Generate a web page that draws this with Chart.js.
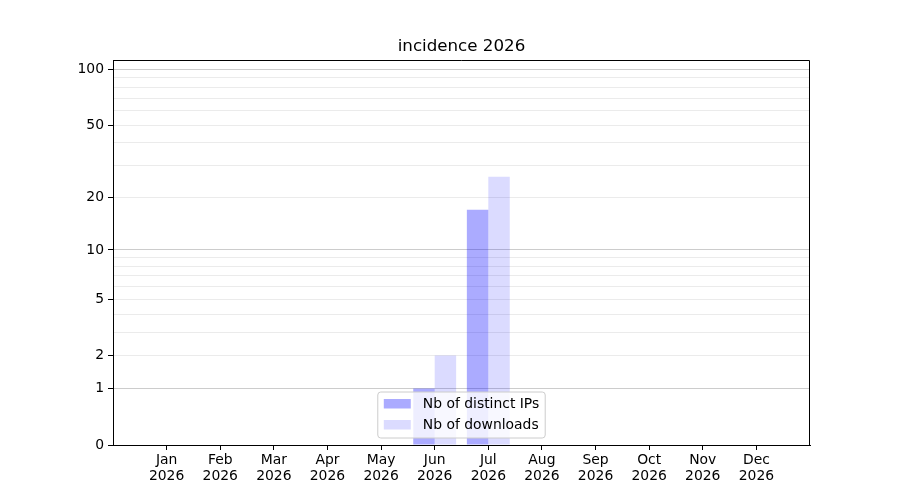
<!DOCTYPE html>
<html>
<head>
<meta charset="utf-8">
<script src="https://cdn.jsdelivr.net/npm/chart.js@4/dist/chart.umd.min.js"></script>
<style>
  html, body { margin: 0; padding: 0; background: #fff; }
  #wrap { width: 900px; height: 500px; }
</style>
</head>
<body>
<div id="wrap"><canvas id="myChart"></canvas></div>
<script>
// data
var months = ["Jan", "Feb", "Mar", "Apr", "May", "Jun", "Jul", "Aug", "Sep", "Oct", "Nov", "Dec"];
var yearLabel = "2026";
var distinctIPs = [0, 0, 0, 0, 0, 1, 17, 0, 0, 0, 0, 0];
var downloads = [0, 0, 0, 0, 0, 2, 26, 0, 0, 0, 0, 0];
var yLabelled = [0, 1, 2, 5, 10, 20, 50, 100];
var yMajorGrid = [1, 10, 100];
var yMinorGrid = [2, 3, 4, 5, 6, 7, 8, 9, 20, 30, 40, 50, 60, 70, 80, 90];
var titleText = "incidence 2026";
var seriesNames = ["Nb of distinct IPs", "Nb of downloads"];
var seriesColors = ["rgba(0,0,255,0.33)", "rgba(0,0,255,0.14)"];

var FONT = "'DejaVu Sans', sans-serif";

// y scale mapped as log10(1 + v), like the reference
class Log1pScale extends Chart.LinearScale {
  configure() {
    super.configure();
    var a = Math.log10(1 + this.min), b = Math.log10(1 + this.max);
    this._startValue = a;
    this._endValue = b;
    this._valueRange = b - a;
  }
  getPixelForValue(v) {
    if (v === null || v === undefined) return NaN;
    return this.getPixelForDecimal((Math.log10(1 + v) - this._startValue) / this._valueRange);
  }
  getValueForPixel(p) {
    return Math.pow(10, this._startValue + this.getDecimalForPixel(p) * this._valueRange) - 1;
  }
}
Log1pScale.id = "log1p";
Log1pScale.defaults = {};
Chart.register(Log1pScale);

function points(arr) {
  return arr.map(function (v, i) { return { x: i, y: v }; });
}

var frame = {
  id: "frame",
  afterDatasetsDraw: function (chart) {
    var ctx = chart.ctx, a = chart.chartArea;
    // legend, lower center
    ctx.save();
    ctx.font = "13.9px " + FONT;
    var tw = Math.max.apply(null, seriesNames.map(function (s) { return ctx.measureText(s).width; }));
    var w = 45 + tw + 6, h = 46;
    var x0 = (a.left + a.right) / 2 - w / 2, y0 = a.bottom - 7 - h;
    ctx.beginPath();
    ctx.roundRect(x0, y0, w, h, 3);
    ctx.fillStyle = "rgba(255,255,255,0.8)";
    ctx.fill();
    ctx.strokeStyle = "#cccccc";
    ctx.lineWidth = 1;
    ctx.stroke();
    seriesNames.forEach(function (s, i) {
      var yy = y0 + 7 + i * 21;
      ctx.fillStyle = seriesColors[i];
      ctx.fillRect(x0 + 6, yy, 27, 9.5);
      ctx.fillStyle = "#000";
      ctx.textBaseline = "middle";
      ctx.textAlign = "left";
      ctx.fillText(s, x0 + 45, yy + 5);
    });
    ctx.restore();
  },
  afterDraw: function (chart) {
    var ctx = chart.ctx, a = chart.chartArea;
    ctx.save();
    // top and right spines
    ctx.strokeStyle = "#000";
    ctx.lineWidth = 1;
    var t = Math.round(a.top) + 0.5, r = Math.round(a.right) - 0.5;
    ctx.beginPath();
    ctx.moveTo(a.left, t);
    ctx.lineTo(r, t);
    ctx.lineTo(r, a.bottom);
    ctx.stroke();
    ctx.font = "16.7px " + FONT;
    ctx.fillStyle = "#000";
    ctx.textAlign = "center";
    ctx.textBaseline = "alphabetic";
    ctx.fillText(titleText, (a.left + a.right) / 2, 51);
    ctx.restore();
  }
};

new Chart("myChart", {
  type: "bar",
  data: {
    datasets: [{
      label: seriesNames[0],
      data: points(distinctIPs),
      backgroundColor: seriesColors[0],
      borderWidth: 0
    }, {
      label: seriesNames[1],
      data: points(downloads),
      backgroundColor: seriesColors[1],
      borderWidth: 0
    }]
  },
  options: {
    responsive: true,
    maintainAspectRatio: false,
    animation: false,
    categoryPercentage: 0.8,
    barPercentage: 1.0,
    layout: { padding: { top: 60, right: 90, left: 0, bottom: 0 } },
    plugins: {
      legend: { display: false },
      title: { display: false },
      tooltip: { enabled: false }
    },
    scales: {
      x: {
        type: "linear",
        min: -1,
        max: 12,
        offset: false,
        afterBuildTicks: function (s) {
          s.ticks = months.map(function (m, i) { return { value: i }; });
        },
        afterFit: function (s) { s.height = 55; },
        grid: { drawOnChartArea: false, offset: false, tickLength: 5, tickColor: "#000" },
        border: { display: true, color: "#000" },
        ticks: {
          autoSkip: false,
          maxRotation: 0,
          padding: 3,
          color: "#000",
          font: { family: FONT, size: 13.9, lineHeight: 1.12 },
          callback: function (v) { return [months[v], yearLabel]; }
        }
      },
      y: {
        type: "log1p",
        min: 0,
        max: 112.5,
        afterBuildTicks: function (s) {
          var vals = [0].concat(yMajorGrid, yMinorGrid).sort(function (a, b) { return a - b; });
          s.ticks = vals.filter(function (v, i) { return vals.indexOf(v) === i; })
            .map(function (v) { return { value: v }; });
        },
        afterFit: function (s) { s.width = 113; },
        grid: {
          tickLength: 5,
          color: function (c) {
            var v = c.tick ? c.tick.value : null;
            if (v === 0) return "rgba(0,0,0,0)";
            return yMajorGrid.indexOf(v) >= 0 ? "#cccccc" : "#ebebeb";
          },
          tickColor: function (c) {
            var v = c.tick ? c.tick.value : null;
            return yLabelled.indexOf(v) >= 0 ? "#000" : "rgba(0,0,0,0)";
          }
        },
        border: { display: true, color: "#000" },
        ticks: {
          autoSkip: false,
          padding: 4,
          color: "#000",
          font: { family: FONT, size: 13.9 },
          callback: function (v) { return yLabelled.indexOf(v) >= 0 ? String(v) : ""; }
        }
      }
    }
  },
  plugins: [frame]
});
</script>
</body>
</html>
